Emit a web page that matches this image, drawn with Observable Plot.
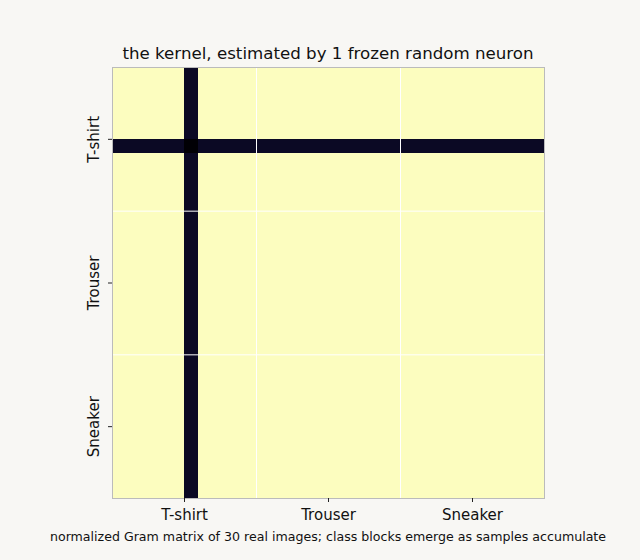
<!DOCTYPE html>
<html>
<head>
<meta charset="utf-8">
<script src="https://cdn.jsdelivr.net/npm/d3@7"></script>
<script src="https://cdn.jsdelivr.net/npm/@observablehq/plot@0.6"></script>
<style>
  html, body { margin: 0; padding: 0; background: #f8f7f4; }
  #wrap { position: relative; width: 640px; height: 560px; font-family: "DejaVu Sans", sans-serif; color: #111; }
  #title { position: absolute; left: 0; width: 656px; top: 46px; text-align: center; font-size: 16.67px; line-height: 1; }
  #caption { position: absolute; left: 0; width: 656px; top: 531px; text-align: center; font-size: 12.6px; line-height: 1; }
  #chart { position: absolute; left: 0; top: 0; }
</style>
</head>
<body>
<div id="wrap">
  <div id="chart"></div>
  <div id="title">the kernel, estimated by 1 frozen random neuron</div>
  <div id="caption">normalized Gram matrix of 30 real images; class blocks emerge as samples accumulate</div>
</div>
<script>
// 30 images: 10 per class, in order
const classes = ["T-shirt", "Trouser", "Sneaker"];
const classTicks = [5, 15, 25];
const classBoundaries = [10, 20];
// normalized response of the single frozen random neuron per image
const neuronResponse = [
  1, 1, 1, 1, 1, 0.07, 1, 1, 1, 1,
  1, 1, 1, 1, 1, 1, 1, 1, 1, 1,
  1, 1, 1, 1, 1, 1, 1, 1, 1, 1
];

const cells = [];
neuronResponse.forEach((a, i) => {
  neuronResponse.forEach((b, j) => {
    cells.push({row: i, col: j, k: a * b});
  });
});

const plot = Plot.plot({
  width: 640,
  height: 560,
  marginLeft: 112,
  marginRight: 96,
  marginTop: 67,
  marginBottom: 62,
  style: {background: "transparent", fontFamily: "DejaVu Sans, sans-serif", fontSize: "15px", color: "#111"},
  x: {domain: [0, 30], axis: null},
  y: {domain: [0, 30], reverse: true, axis: null},
  color: {type: "linear", scheme: "magma", domain: [0, 1]},
  marks: [
    Plot.rect(cells, {x1: "col", x2: d => d.col + 1, y1: "row", y2: d => d.row + 1, fill: "k", inset: 0, shapeRendering: "crispEdges"}),
    Plot.ruleX(classBoundaries, {stroke: "white", strokeWidth: 1}),
    Plot.ruleY(classBoundaries, {stroke: "white", strokeWidth: 1}),
    Plot.frame({stroke: "#bbbbbb", strokeWidth: 1}),
    Plot.axisX(classTicks, {anchor: "bottom", tickSize: 4, tickPadding: 7, fontSize: 15, tickFormat: (d, i) => classes[i], stroke: "#222", fill: "#111", label: null}),
    Plot.axisY(classTicks, {anchor: "left", tickSize: 4, tickPadding: 10, fontSize: 15, tickRotate: -90, tickFormat: (d, i) => classes[i], stroke: "#222", fill: "#111", label: null})
  ]
});
document.getElementById("chart").appendChild(plot);
</script>
</body>
</html>
